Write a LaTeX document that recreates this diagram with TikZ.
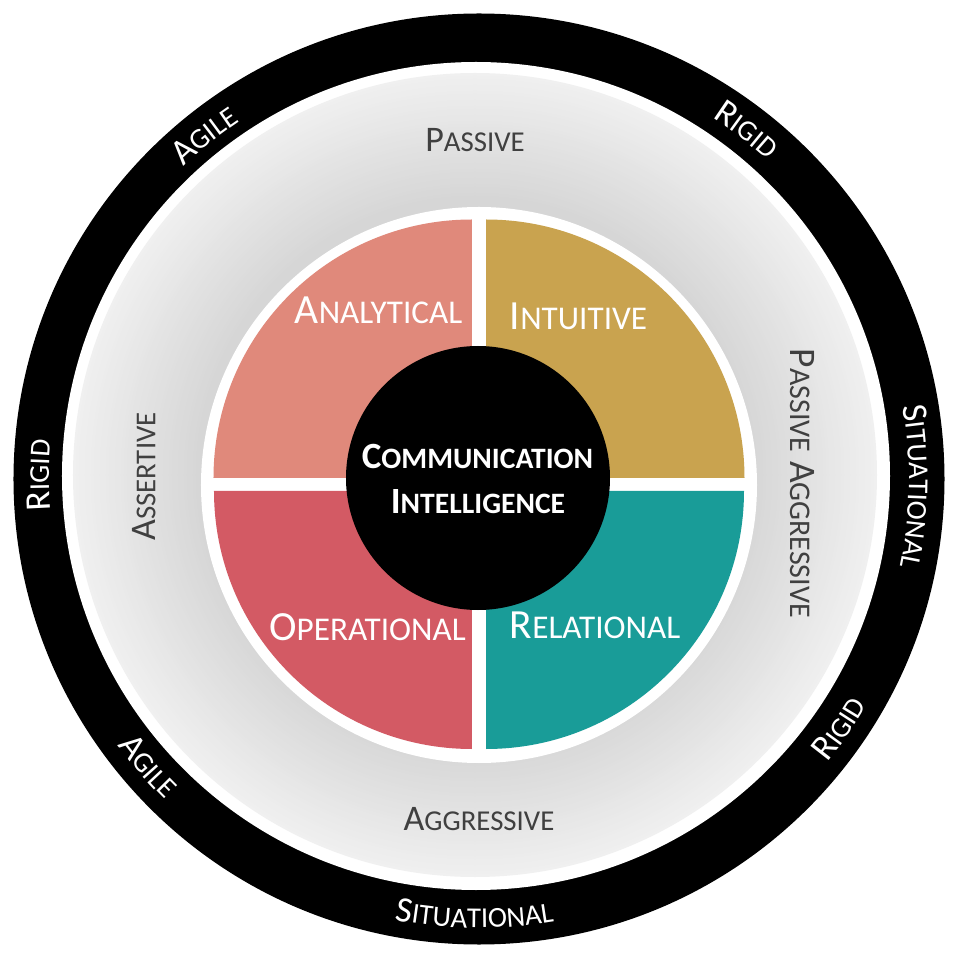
\documentclass[tikz,border=0pt]{standalone}
\usepackage{fontspec}
\setmainfont{Carlito}
\usetikzlibrary{decorations.text}

\definecolor{analytical}{HTML}{E0897B}
\definecolor{intuitive}{HTML}{C9A34F}
\definecolor{operational}{HTML}{D35A64}
\definecolor{relational}{HTML}{199C98}
\definecolor{labelgrey}{HTML}{404040}

% fake small caps: rest of the word at 80%
\makeatletter
\newcommand{\smc}[1]{{\fontsize{\fpeval{0.8*\f@size}}{0pt}\selectfont#1}}
\makeatother
\newcommand{\ringbig}{\fontsize{36}{36}\selectfont}
\newcommand{\ringsmall}{\fontsize{28.8}{28.8}\selectfont}

\tikzset{
  quadlabel/.style={text=white, inner sep=0pt, font=\fontsize{41.5}{41.5}\selectfont},
  greylabel/.style={text=labelgrey, inner sep=0pt, font=\fontsize{36}{36}\selectfont},
  corelabel/.style={text=white, inner sep=0pt, font=\bfseries\fontsize{37}{37}\selectfont},
  ringtext/.style 2 args={decorate, decoration={text along path, text align=center,
      text color=white, text={|\ringbig|#1|\ringsmall|#2}}},
}

% words on the black ring: top half reads clockwise, bottom half anticlockwise
\newcommand{\ringtop}[3]{%
  \path[ringtext={#2}{#3}] ({#1+35}:430) arc[start angle={#1+35}, end angle={#1-35}, radius=430];}
\newcommand{\ringbottom}[3]{%
  \path[ringtext={#2}{#3}] ({#1-35}:449) arc[start angle={#1-35}, end angle={#1+35}, radius=449];}

\begin{document}
\begin{tikzpicture}[x=1pt,y=1pt]
  \useasboundingbox (-479,-479) rectangle (479,479);

  % outer black ring
  \fill[black] (0,0) circle (465.5);
  \fill[white] (-3,3) circle (414);

  % grey band, lighter towards the outside
  \foreach \r in {402,399,...,279} {
    \pgfmathsetmacro{\g}{84+10*(\r-278)/124}
    \fill[white!\g!black] (-4,4) circle (\r);
  }
  \fill[white] (0,-6) circle (278);

  % the four quarters
  \fill[analytical] (-7,1) -- ++(-258.5,0) arc[start angle=180, end angle=90, radius=258.5] -- cycle;
  \fill[intuitive] (7,1) -- ++(0,258.5) arc[start angle=90, end angle=0, radius=258.5] -- cycle;
  \fill[operational] (-7,-12) -- ++(0,-258) arc[start angle=270, end angle=180, radius=258] -- cycle;
  \fill[relational] (7,-12) -- ++(258,0) arc[start angle=0, end angle=-90, radius=258] -- cycle;

  % core
  \node[circle, fill=black, inner sep=0pt, minimum size=264pt] (core) at (-1,1) {};
  \node[corelabel] (comm) at (-1.5,22.5) {C\smc{OMMUNICATION}};
  \node[corelabel] (intel) at (-1,-22.5) {I\smc{NTELLIGENCE}};

  \node[quadlabel] (analytic) at (-100.5,168.5) {A\smc{NALYTICAL}};
  \node[quadlabel] (intuit) at (99.5,163) {I\smc{NTUITIVE}};
  \node[quadlabel] (operat) at (-111.5,-148) {O\smc{PERATIONAL}};
  \node[quadlabel] (relat) at (116,-146.5) {R\smc{ELATIONAL}};

  % styles on the grey band
  \node[greylabel] (passive) at (-4,339) {P\smc{ASSIVE}};
  \node[greylabel] (aggressive) at (0,-340) {A\smc{GGRESSIVE}};
  \node[greylabel, rotate=90] (assertive) at (-335,2.5) {A\smc{SSERTIVE}};
  \node[greylabel, rotate=-90, font=\fontsize{37.5}{37.5}\selectfont] (passaggr) at (323,-4.5) {P\smc{ASSIVE} A\smc{GGRESSIVE}};

  % ring words
  \ringtop{128.6}{A}{GILE}
  \ringtop{52.5}{R}{IGID}
  \ringtop{-1}{S}{ITUATIONAL}
  \ringtop{179.5}{R}{IGID}
  \ringbottom{-34.7}{R}{IGID}
  \ringbottom{269.4}{S}{ITUATIONAL}
  \ringbottom{221}{A}{GILE}
\end{tikzpicture}
\end{document}
